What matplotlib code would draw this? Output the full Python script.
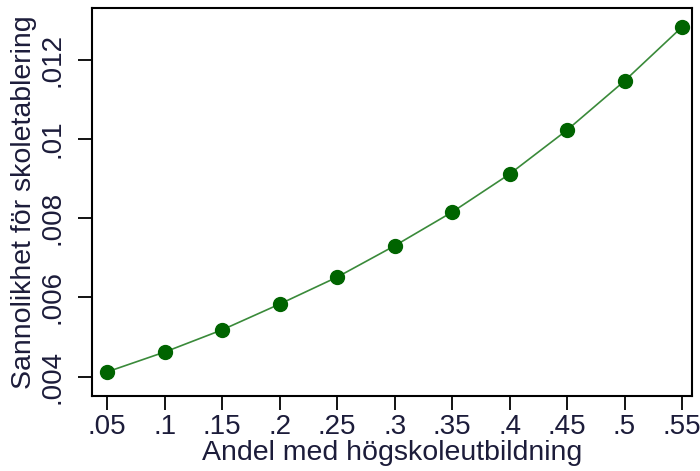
import matplotlib
matplotlib.use("Agg")
import matplotlib.pyplot as plt
from matplotlib.ticker import FixedLocator

plt.rcParams['font.family'] = ['Liberation Sans', 'DejaVu Sans']

andel = [0.05, 0.10, 0.15, 0.20, 0.25, 0.30, 0.35, 0.40, 0.45, 0.50, 0.55]
sannolikhet = [0.00412, 0.00462, 0.00518, 0.00583, 0.00651, 0.00730,
               0.00815, 0.00911, 0.01022, 0.01146, 0.01282]
xtick_vals = [0.05, 0.10, 0.15, 0.20, 0.25, 0.30, 0.35, 0.40, 0.45, 0.50, 0.55]
xtick_labels = ['.05', '.1', '.15', '.2', '.25', '.3', '.35', '.4', '.45', '.5', '.55']
ytick_vals = [0.004, 0.006, 0.008, 0.010, 0.012]
ytick_labels = ['.004', '.006', '.008', '.01', '.012']

fig = plt.figure(figsize=(7.0, 4.71), dpi=100)
ax = fig.add_axes([92/700, 1-396/471, 600/700, 388/471])

ax.plot(andel, sannolikhet, color='#3a8a3a', lw=1.2, zorder=2)
ax.plot(andel, sannolikhet, linestyle='none', marker='o', markersize=10,
        color='#006400', zorder=3)

ax.set_xlim(0.0367, 0.5587)
ax.set_ylim(0.00351, 0.0133)
ax.xaxis.set_major_locator(FixedLocator(xtick_vals))
ax.set_xticklabels(xtick_labels)
ax.yaxis.set_major_locator(FixedLocator(ytick_vals))
ax.set_yticklabels(ytick_labels, rotation=90, va='center')

tcol = '#1c1c3a'
ax.tick_params(axis='both', length=10, width=1.3, color='black',
               labelsize=20, labelcolor=tcol)
ax.tick_params(axis='x', pad=3)
ax.tick_params(axis='y', pad=9)
for s in ax.spines.values():
    s.set_linewidth(1.5)

ax.set_xlabel('Andel med högskoleutbildning', fontsize=20.5, color=tcol, labelpad=0)
ax.set_ylabel('Sannolikhet för skoletablering', fontsize=20.5, color=tcol, labelpad=2)

fig.savefig('out.png', dpi=100)
